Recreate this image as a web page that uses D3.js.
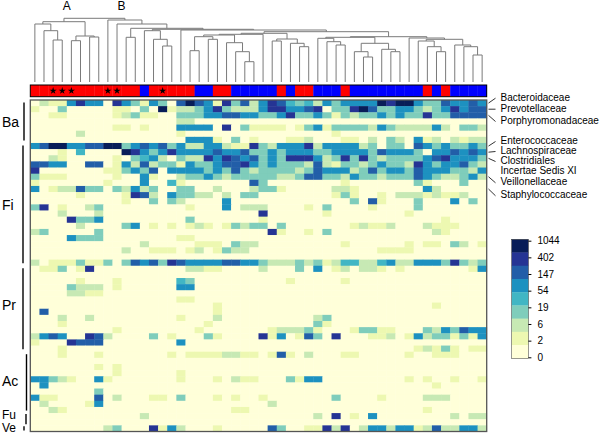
<!DOCTYPE html>
<html><head><meta charset="utf-8">
<script src="https://cdn.jsdelivr.net/npm/d3@7"></script>
<style>body{margin:0;background:#fff}svg{display:block}</style>
</head><body><svg id="c" width="600" height="435"></svg>
<script>
// ---------- DATA ----------
// abundance level per cell (0..8), one string per taxon row, 50 samples
const bacteroidetes = [
"0211575507 5315306865 1736257643 4253555587 8853365565",
"1003000001 1030812235 7322257755 6703378633 5532357566",
"0011000001 2311003335 5665533573 3531323353 5337336666",
"0000000000 0000002200 0000000000 0000000000 0000000000",
"0000000001 1010005555 0703111101 3513333253 2222520332",
"0000020000 0000001000 0000000000 0001000000 0000000000",
"0000000000 0000000555 1030100011 2000110203 2051202122"];
const firmicutes = [
"5688556688 3565635225 5211732555 7255552303 3065353353",
"0001040000 8753575555 6556335355 5335555365 5530556565",
"0021000001 0345203227 5765635377 7523737323 3335675553",
"6655006601 5262331533 5667535333 2621332353 3275355632",
"7000000011 3536055553 5363233332 3655523635 5365553325",
"3111000001 0051002335 3233333223 6633253323 3365322352",
"1000000010 0050041000 0000630000 0000100000 0031000300",
"5012263303 2523003300 2000233100 0002210000 0005200000",
"0000010000 1762053322 0203300000 0001310010 2221211200",
"0000000000 1003032000 0500000000 0000030610 0030005030",
"3701002300 0000000100 0502220000 1030000100 0030000000",
"0002000200 0000000000 0000070000 0010000000 0100000000",
"0000733500 0000000300 0000010000 0000000000 0000010000",
"0000020000 3501010121 0132330300 0000012112 0002111000",
"2300000300 0000000000 0000007100 1030000000 0000210000",
"0000533300 0000001100 0000000000 0000000000 0000000000",
"0000000000 0020000011 1032200000 0000100000 0101103201",
"0000000000 2001110120 1322000000 0000000011 1100000000",
"0000000000 0000000000 0000000000 0000000000 0000000000",
"2011131130 3656376555 5665532223 2312442245 2255537323"];
const proteobacteria = [
"0113017000 0000000221 1000020003 0501202210 1000000015",
"0000000000 0000000000 0000000000 0000000000 0000000000",
"0000010001 0000004300 0000000010 0000100000 0000000000",
"0000322201 0000005500 0000000000 0000000000 0000000000",
"0000221100 0000000000 0000000000 0000000000 0000000000",
"0000000000 0000001100 0000000000 0000000000 0000000000",
"0000000000 0000000000 1000000000 0000000000 0000100000",
"0600000000 0000000000 1000000000 0000000000 0000000000",
"0002002000 0000001000 2000000000 0230000000 0000000000",
"0001000000 0000000001 0000000000 0310000000 0000000000",
"0000000001 0000000010 0000001222 3100013311 0003253655",
"2565007620 0003010003 1000071501 6307000112 0152331315",
"1000766600 0000005000 0000000000 0000000000 0000000000",
"0001000000 0000000000 0000000000 0000000000 0012131011"];
const actinobacteria = [
"0001000100 0000010111 1221101610 2000110000 0100111000",
"0000000000 0000000000 0000000000 0000000000 0000000000",
"0000000101 0000000000 0000000000 0000000000 0000000000",
"0000000001 0000001000 0000000000 0000000000 0000000000",
"5532100510 0000001000 1021100031 5500000000 0101001001",
"0500000000 0000000000 0000000000 0000000000 0000100000",
"0000000300 0000000000 0000000000 0000000000 0000000000",
"5110000602 0001103000 1010010000 0003000010 0002220000",
"0200001500 0000000000 0000002000 0000000000 0000000000",
"0021000000 0000000000 0011000000 0000000000 0001000000"];
const fusobacteria = [
"0000000000 0020000000 0000000000 0207010500 0000002022",
"0000000000 0000000000 0000000000 0000000000 0000000000"];
const verrucomicrobia = [
"0000000023 0007152000 1000006300 1172702552 5512622552"];

const phylumLabels = ["Ba","Fi","Pr","Ac","Fu","Ve"];
const levelCounts = [0, 2, 6, 14, 31, 69, 150, 329, 800];
const legendTicks = [0, 2, 6, 19, 54, 147, 402, 1044];
const maxCount = 1044;
const sampleGroups = "RRRRRRRRRRRRBRRRRRBBRRBBBBBRBRRBBBRBBBBBBBBRBRBBBB";
const starredSamples = [2, 3, 4, 8, 9, 14];
const clusterLabels = [{text:"A", at:4.0}, {text:"B", at:10.0}];
const familyLabels = [
  {row:0, lines:["Bacteroidaceae"], y:100.7},
  {row:1, lines:["Prevotellaceae"], y:111.7},
  {row:2, lines:["Porphyromonadaceae"], y:124},
  {row:7, lines:["Enterococcaceae"], y:144},
  {row:8, lines:["Lachnospiraceae"], y:154},
  {row:9, lines:["Clostridiales","Incertae Sedis XI"], y:164},
  {row:12, lines:["Veillonellaceae"], y:185.3},
  {row:14, lines:["Staphylococcaceae"], y:198.3}];
// dendrogram: [left, right, mergeDistance]; leaves are sample indices
const dendrogram =
 [[[0,[1,[2,3,42],51.3],58],[[4,5,41.3],[6,7,45],46],60.3],
  [8,[9,[[10,11,44.7],
     [[12,[13,[14,15,36],42.7],51.3],
      [16,[[[[[[17,18,31.3],[19,20,42.7],45.3],[21,[22,[23,24,20.3],30.3],39.3],47],25,47.7],
            [[26,27,41],[28,[29,30,35.3],38.7],43],48.7],
           [[[31,[32,[33,34,37],40.3],43.7],
             [[35,[36,37,25],30.3],[38,[39,40,30.3],32.7],38.7],44.7],
            [41,[[42,[43,[44,45,30.3],35.3],41],[46,[47,[48,49,27],35.3],37],42.7],44],45.3],50.3],52],
      52.7],53.7],58],62],63.7];

// ---------- BUILD ----------
const groups = [bacteroidetes, firmicutes, proteobacteria, actinobacteria, fusobacteria, verrucomicrobia];
const rows = groups.flat().map(s => s.replace(/ /g,'').split('').map(d => levelCounts[+d]));
const nCols = rows[0].length, nRows = rows.length;
const colors = ["#ffffd9","#edf8b1","#c7e9b4","#7fcdbb","#41b6c4","#1d91c0","#225ea8","#253494","#081d58"];
const color = d3.scaleQuantize().domain([0, Math.log1p(maxCount)]).range(colors);

const svg = d3.select("#c");
const font = "'Liberation Sans', Arial, Helvetica, sans-serif";
const x = d3.scaleBand().domain(d3.range(nCols)).range([30.3, 486.7]);
const y = d3.scaleBand().domain(d3.range(nRows)).range([100, 431.5]);
const cx = i => x(i) + x.bandwidth()/2;

// cells
const cells = [];
rows.forEach((r, ri) => r.forEach((v, ci) => cells.push({ri, ci, v})));
svg.append("g").selectAll("rect").data(cells).join("rect")
  .attr("x", d => x(d.ci)).attr("y", d => y(d.ri))
  .attr("width", x.bandwidth() + 0.4).attr("height", y.bandwidth() + 0.4)
  .attr("fill", d => color(Math.log1p(d.v)));
// frame
svg.append("rect").attr("x", 30.3).attr("y", 100).attr("width", 456.4).attr("height", 331.5)
  .attr("fill", "none").attr("stroke", "#555").attr("stroke-width", 1.3);

// phylum bars + labels
const barX = [24, 23, 23, 26.5, 26, 24];
const labelSize = [14, 14, 14, 14, 12, 12];
const labelBase = [126.5, 209.5, 310, 386, 418.6, 431.8];
let start = 0;
groups.forEach((g, gi) => {
  const y0 = y(start), y1 = y(start + g.length - 1) + y.bandwidth();
  const inset = g.length > 2 ? 2.5 : 1;
  svg.append("line").attr("x1", barX[gi]).attr("x2", barX[gi])
    .attr("y1", y0 + inset).attr("y2", y1 - inset).attr("stroke", "#000").attr("stroke-width", 1.4);
  svg.append("text").attr("x", 2).attr("y", labelBase[gi])
    .attr("font-family", font).attr("font-size", labelSize[gi]).text(phylumLabels[gi]);
  start += g.length;
});

// sample group bar
const gb = svg.append("g");
gb.selectAll("rect").data(sampleGroups.split('')).join("rect")
  .attr("x", (d,i) => x(i)).attr("y", 85).attr("width", x.bandwidth()+0.3).attr("height", 11.7)
  .attr("fill", d => d === "R" ? "#ff0000" : "#0000ff");
gb.append("rect").attr("x", 30.3).attr("y", 85).attr("width", 456.4).attr("height", 11.7)
  .attr("fill", "none").attr("stroke", "#000").attr("stroke-width", 1);
svg.append("g").selectAll("path").data(starredSamples).join("path")
  .attr("transform", d => `translate(${cx(d)},90.8)`)
  .attr("d", d3.symbol(d3.symbolStar, 16)).attr("fill", "#000");

// dendrogram
const yd = d3.scaleLinear().domain([0, 63.7]).range([82, 18.3]);
const segs = [];
function lay(n) {
  if (typeof n === "number") return {x: cx(n), y: 82};
  const l = lay(n[0]), r = lay(n[1]);
  const ny = yd(n[2]);
  segs.push(`M${l.x},${l.y}V${ny}H${r.x}V${r.y}`);
  return {x: (l.x + r.x)/2, y: ny};
}
lay(dendrogram);
svg.append("g").selectAll("path").data(segs).join("path")
  .attr("d", d => d).attr("fill", "none").attr("stroke", "#7a7a7a").attr("stroke-width", 1);
svg.append("g").selectAll("text").data(clusterLabels).join("text")
  .attr("x", d => x(0) + x.bandwidth()*d.at).attr("y", 10).attr("text-anchor", "middle")
  .attr("font-family", font).attr("font-size", 12).text(d => d.text);

// family labels
const fl = svg.append("g").attr("font-family", font).attr("font-size", 10);
familyLabels.forEach(f => {
  fl.append("line").attr("x1", 488.5).attr("y1", y(f.row) + y.bandwidth()/2)
    .attr("x2", 495.5).attr("y2", f.y - 2.5).attr("stroke", "#000").attr("stroke-width", 0.8);
  f.lines.forEach((t, i) => fl.append("text").attr("x", 500.5).attr("y", f.y + i*10).text(t));
});

// legend
const lg = svg.append("g");
const ly0 = 239.3, ly1 = 358.3, bh = (ly1 - ly0) / colors.length;
lg.selectAll("rect").data(colors.slice().reverse()).join("rect")
  .attr("x", 511.7).attr("y", (d,i) => ly0 + i*bh).attr("width", 16.7).attr("height", bh + 0.3)
  .attr("fill", d => d);
lg.append("rect").attr("x", 511.7).attr("y", ly0).attr("width", 16.7).attr("height", ly1 - ly0)
  .attr("fill", "none").attr("stroke", "#333").attr("stroke-width", 0.5);
const ls = d3.scalePoint().domain(legendTicks).range([357.3, 240.7]);
const axis = d3.axisRight(ls).tickSize(3).tickPadding(6);
lg.append("g").attr("transform", "translate(528.4,0)").call(axis)
  .call(g => g.select(".domain").remove())
  .call(g => g.selectAll("text").attr("font-family", font).attr("font-size", 10).attr("fill", "#000"))
  .call(g => g.selectAll("line").attr("stroke", "#000"));
</script></body></html>
